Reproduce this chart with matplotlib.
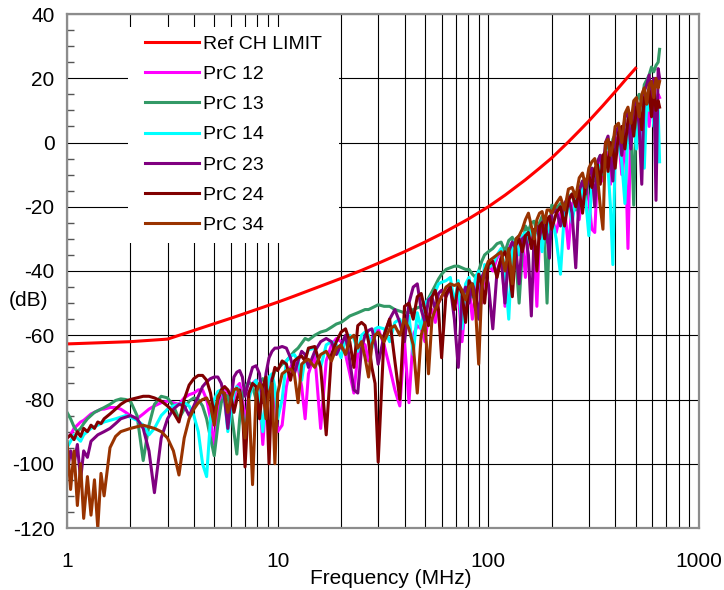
import numpy as np
import matplotlib
matplotlib.use("Agg")
import matplotlib.pyplot as plt
from matplotlib.patches import Rectangle
from matplotlib.ticker import FixedLocator, NullFormatter, MultipleLocator

# sweep frequencies (MHz)
freq = [1.0, 1.04, 1.08, 1.12, 1.16, 1.2, 1.25, 1.3, 1.35, 1.4, 1.45, 1.5, 1.6, 1.7, 1.8, 1.9, 2.0,
        2.15, 2.3, 2.45, 2.6, 2.8, 3.0, 3.2, 3.4, 3.6, 3.8, 4.0, 4.2, 4.4, 4.6, 4.8, 5.0, 5.2, 5.4,
        5.6, 5.8, 6.0, 6.2, 6.4, 6.6, 6.8, 7.0, 7.3, 7.6, 7.9, 8.2, 8.5, 8.8, 9.1, 9.4, 9.7, 10,
        10.5, 11, 11.5, 12, 12.5, 13, 13.5, 14, 15, 16, 17, 18, 19, 20, 21, 22, 23, 24, 25, 26,
        27, 28, 29, 30, 32, 34, 36, 38, 40, 42, 44, 46, 48, 50, 52, 54, 56, 58, 60, 63, 66, 69,
        72, 75, 78, 81, 84, 87, 90, 93, 96, 100,
        105, 110, 115, 120, 125, 130, 135, 140, 145, 150, 155, 160, 165, 170, 175, 180, 185,
        190, 195, 200, 210, 220, 230, 240, 250, 260, 270, 280, 290, 300, 310, 320, 330, 340,
        350, 360, 370, 380, 390, 400, 415, 430, 445, 460, 475, 490, 505, 520, 535, 550, 565,
        580, 595, 610, 625, 640, 650]

# reference channel limit
limit_freq = [1, 2, 3, 4, 5, 6, 7, 8, 10, 12, 15, 20, 25, 30, 40, 50, 60, 70, 80, 100,
              120, 150, 175, 200, 240, 270, 300, 350, 400, 450, 500]
limit_db = [-62.7, -62.0, -61.2, -58.5, -56.4, -54.7, -53.2, -51.9, -49.7, -47.8, -45.4,
            -42.3, -39.8, -37.6, -34.0, -31.0, -28.4, -26.0, -23.9, -20.0, -16.4, -11.6,
            -8.0, -4.8, 0.2, 3.6, 6.7, 11.5, 15.8, 19.7, 23.1]

prc12 = [-92, -91, -89, -88, -87, -86.5, -85.5, -84.5, -84, -83.5, -83, -83, -82.5, -82.5, -83, -84, -85,
         -86, -84.5, -83, -82, -81, -80.5, -81, -81.5, -79.5, -78.5, -78, -77, -77, -80, -86, -94, -84, -78,
         -76, -78, -85, -80, -76, -75, -79, -88, -78, -75, -74, -79, -94, -80, -74, -72.5, -80, -90,
         -88, -76, -70, -68, -70, -76, -86, -72, -66, -89, -68, -63, -61, -62, -66, -72, -78, -66, -62, -63,
         -68, -61, -59, -58, -63, -70, -77, -82, -62, -81, -60, -57, -58, -62, -54, -52, -56, -50, -48,
         -46, -44, -52, -47, -62, -50, -45, -55, -46, -42, -50, -40, -38,
         -40, -36, -34, -51, -33, -31, -38, -29, -30, -42, -28, -27, -33, -51, -29, -26, -25, -31, -24, -23,
         -28, -22, -20, -33, -19, -18, -24, -15, -13, -18, -27, -28, -9, -6, -12, -4, -3, -13, -1, 0,
         2, -10, 4, -33, 6, 3, 9, 10, 0, 12, 13, 5, 15, 17, 10, 15, 14]

prc13 = [-84, -86, -88.5, -90, -89, -87.5, -86, -85, -84, -83.5, -83, -82.5, -81.5, -80.3, -79.8, -80, -80.5,
         -85, -99, -88, -81.5, -79, -79.5, -82, -86, -83, -80.5, -79.5, -80, -82, -86, -92, -97.5, -88, -81,
         -78.5, -79, -83, -90, -97, -86, -79, -76, -74.5, -76, -80, -75, -73.5, -75, -79, -74, -71, -70.5,
         -69, -68, -66.5, -65, -64, -62.5, -61, -61.5, -60, -59, -58.5, -57.5, -56.5, -56, -55, -54, -53.5,
         -53, -52.5, -52, -52, -51.5, -51, -50.5, -51, -51, -52, -52.5, -53, -53, -52, -51.5, -51, -50,
         -48.5, -46.5, -44.5, -42.5, -41, -39.5, -39, -38.5, -38.5, -39, -39.5, -39.5, -41, -42, -40, -37,
         -35, -34,
         -33, -31.5, -31, -34, -30.5, -29.5, -36, -50, -34, -26, -27.5, -25, -24.5, -28, -25, -23, -30, -50,
         -27, -19.5, -20.5, -19, -22, -17, -16, -21, -14.5, -12, -18, -10, -8, -12, -6, -4, -9, -2, -0.5,
         -6, 1, 2.5, 4, -3, 8, 10, 5, -19.5, 13, 15, 12, 18, 19.5, 21, 23.5, 22, 24, 25, 29]

prc14 = [-95, -93, -91, -92, -93, -91, -90, -89, -88.5, -88, -87.5, -87, -86.5, -86, -85.5, -85, -85.5,
         -86.5, -88, -91, -89, -85, -83, -82, -81.5, -81, -82, -85, -90, -100, -104, -86, -80, -77.5, -77,
         -80, -90, -84, -78, -76, -77, -83, -92, -80, -75.5, -74, -80, -90, -79, -73, -72, -76, -86,
         -80, -68, -66.5, -66, -68, -74, -67, -64.5, -64, -70, -63, -62, -63, -67, -61, -60, -61, -65, -60,
         -59, -60, -64, -58, -57.5, -58, -62, -56, -55, -59, -54, -66, -53, -58, -50, -49, -47.5, -46.5, -44,
         -43.5, -43, -42, -50, -43, -58, -44, -42, -48, -42, -40, -46, -38, -39,
         -38, -35, -33, -40, -55, -32, -30, -35, -29, -28, -31, -27, -30, -26, -27, -34, -26, -25, -28, -23,
         -30, -41, -21, -19, -25, -17, -20, -14, -18, -29, -12, -9, -14, -7, -10, -5, -8, -20, -38, -3,
         0, -6, -19, 4, 1, 7, -2, 9, 11, -8, 13, 10, 15, 5, 14, 10, -6]

prc23 = [-103, -96, -100, -94, -105, -96, -98, -93, -92, -91, -90.5, -90, -89, -87.5, -86, -85.5, -85,
         -86, -89, -96, -109, -92, -86, -83, -81.5, -82, -85, -82, -79, -76, -74.5, -73.5, -73, -73, -75,
         -80, -89, -80, -73, -71.5, -71, -73, -79, -74, -70, -69.5, -72, -81, -72, -67, -65, -64, -64,
         -63.5, -64, -67, -72, -68, -65, -66, -70, -65, -62, -61, -62, -66, -63, -60, -68, -77, -78, -64,
         -60, -58.5, -58, -62, -69, -60, -55, -52, -56, -62, -50, -45, -44, -52, -56, -49, -48, -52, -47,
         -46, -48, -45, -55, -70, -48, -45, -50, -44, -47, -55, -42, -40, -44,
         -58, -40, -36, -50, -34, -31, -33, -44, -30, -29, -35, -54, -28, -26, -30, -25, -24, -29, -36, -22,
         -21, -26, -19, -17, -22, -39, -15, -12, -16, -10, -8, -20, -6, -4, -9, 0, 2, -5, -12, 3,
         5, -4, 8, 9, -2, 11, 13, 5, -13, 16, 18, 21, 12, 20, -18, 23, 20]

prc24 = [-92, -91, -92.5, -90, -91.5, -89, -90, -88, -89, -87, -87.5, -86, -84.5, -83, -81.5, -80.5, -80,
         -79.5, -79, -79, -79.5, -80.5, -82, -84, -87, -80, -75.5, -73.5, -72.5, -72.5, -74, -78, -85, -80,
         -77, -76, -77, -79, -84, -80, -77, -82, -101, -78, -75, -76, -86, -76, -73, -100, -74, -70, -71,
         -68, -69, -74, -68, -67, -66.5, -68, -64, -63.5, -70, -91, -66, -62, -59, -58, -62, -70, -57, -56,
         -57, -62, -70, -75, -99.5, -60, -55, -68, -80, -51, -50, -55, -48, -47, -52, -57, -48, -46, -52,
         -67, -47, -45, -52, -44, -47, -56, -43, -45, -52, -41, -44, -50, -38,
         -37, -42, -36, -34, -38, -48, -32, -30, -34, -29, -28, -33, -27, -40, -26, -25, -30, -24, -23, -27,
         -22, -20, -26, -18, -16, -20, -15, -22, -12, -10, -14, -8, -7, -13, -4, -3, -9, 0, -2, -8,
         3, 5, -2, 7, 9, 2, 11, 12, 4, 14, 12, 16, 8, 17, 10, 13, 11]

prc34 = [-93, -108, -96, -113, -100, -117, -104, -116, -105, -120, -103, -110, -95, -91.5, -90, -89.5, -89,
         -88.5, -88, -88.5, -89, -90, -92, -96, -103.5, -92, -86, -83, -81, -80, -79.5, -82, -88, -79, -77.5,
         -78, -84, -80, -77, -76.5, -78, -85, -92, -80, -106.5, -78, -75, -77, -86, -78, -75, -100, -78,
         -72, -71, -70.5, -72, -81, -69, -68, -67.5, -70, -66, -65, -68, -64, -63, -66, -61, -60, -64, -62,
         -67, -73, -63, -60, -59, -62, -58, -57, -60, -55, -58, -63, -78, -60, -56, -72, -55, -52, -50, -48,
         -45, -44, -44.5, -44, -46, -49, -45, -44, -52, -69, -46, -40, -37,
         -36, -35, -34, -40, -33, -44, -30, -29, -27, -24, -22, -26, -30, -24, -22, -21.5, -25, -21, -21, -22,
         -19, -17, -21, -14.5, -14, -17, -11, -9.5, -14, -8, -6, -5, -11, -20, -27, 0, 1, -4, -1, 5,
         6, 0, 9, 11, 6, 13, 14, 8, 15, 17, 12, 18, 19, 14, 20, 17, 19]

names = ["PrC 12", "PrC 13", "PrC 14", "PrC 23", "PrC 24", "PrC 34"]
colours = ["#ff00ff", "#339966", "#00ffff", "#800080", "#800000", "#993300"]


def main():

    plt.rcParams['font.family'] = "sans-serif"
    plt.rcParams['font.sans-serif'] = ["Liberation Sans", "DejaVu Sans"]
    plt.rcParams['axes.unicode_minus'] = False
    plt.rcParams['xtick.labelsize'] = 15
    plt.rcParams['ytick.labelsize'] = 15

    W, H = 724, 590
    fig = plt.figure(figsize=(W / 100, H / 100), dpi=100)
    ax = fig.add_axes([67 / W, 1 - 528 / H, 632 / W, 514 / H])

    ax.plot(limit_freq, limit_db, color="#ff0000", lw=2.2, label="Ref CH LIMIT")
    for vals, col, lab in zip([prc12, prc13, prc14, prc23, prc24, prc34], colours, names):
        ax.plot(freq, vals, color=col, lw=2.2, label=lab)

    ax.set_xscale("log")
    ax.set_xlim(1, 1000)
    ax.set_ylim(-120, 40)
    ax.set_xticks([1, 10, 100, 1000])
    ax.set_xticklabels(["1", "10", "100", "1000"])
    ax.xaxis.set_minor_locator(FixedLocator([m * 10 ** k for k in range(3)
                                             for m in range(2, 10)]))
    ax.xaxis.set_minor_formatter(NullFormatter())
    ax.set_yticks(np.arange(-120, 41, 20))
    ax.yaxis.set_minor_locator(MultipleLocator(5))

    ax.set_axisbelow(True)
    ax.grid(which="major", axis="both", color="k", lw=0.8)
    ax.grid(which="minor", axis="x", color="k", lw=0.8)
    ax.tick_params(axis="x", which="both", length=0, pad=17)
    ax.tick_params(axis="y", which="major", length=0, pad=9)
    ax.tick_params(axis="y", which="minor", direction="in", length=5,
                   width=1, color="#555555")
    for sp in ax.spines.values():
        sp.set_color("#8c8c8c")
        sp.set_linewidth(1.6)

    # white block behind the legend hides the grid
    ax.add_patch(Rectangle((128 / W, 1 - 243 / H), 211 / W, 216 / H,
                           transform=fig.transFigure, facecolor="white",
                           edgecolor="none", zorder=3, clip_on=False))
    ax.legend(loc="upper left", bbox_to_anchor=(145 / W, 1 - 35 / H),
              bbox_transform=fig.transFigure, borderaxespad=0, borderpad=0,
              frameon=False, fontsize=14, handlelength=2.8,
              handletextpad=0.2, labelspacing=0.65)

    fig.text(391 / W, 1 - 578 / H, "Frequency (MHz)", ha="center",
             va="center", fontsize=15)
    fig.text(29 / W, 1 - 301 / H, "(dB)", ha="center", va="center",
             fontsize=15)

    fig.savefig("out.png", dpi=100)


if __name__ == "__main__":
    main()
